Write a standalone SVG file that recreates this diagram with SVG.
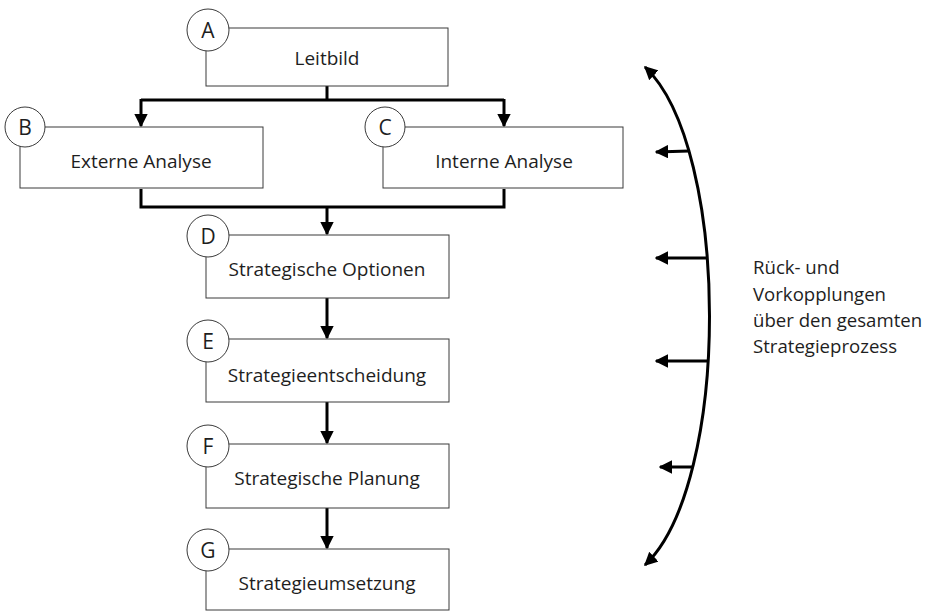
<svg xmlns="http://www.w3.org/2000/svg" width="928" height="612" viewBox="0 0 928 612">
<defs>
<style>
.box{fill:#fff;stroke:#3a3a3a;stroke-width:1}
.circ{fill:#fff;stroke:#3a3a3a;stroke-width:1}
.lbl{font-family:"Open Sans","Liberation Sans",sans-serif;font-size:19px;fill:#1e1e1e;text-anchor:middle}
.let{font-family:"Open Sans","Liberation Sans",sans-serif;font-size:21px;fill:#1e1e1e;text-anchor:middle}
.side{font-family:"Open Sans","Liberation Sans",sans-serif;font-size:18.6px;fill:#1e1e1e}
.con{fill:none;stroke:#000;stroke-width:3}
</style>
<marker id="ah" viewBox="0 0 10 10" refX="9" refY="5" markerWidth="4.5" markerHeight="4.5" orient="auto-start-reverse" markerUnits="strokeWidth">
<path d="M0,0 L10,5 L0,10 Z" fill="#000"/>
</marker>
</defs>
<rect width="928" height="612" fill="#fff"/>
<g id="connectors">
<path class="con" d="M327,86 V100 M141,100 H504"/>
<path class="con" d="M141,99 V126" marker-end="url(#ah)"/>
<path class="con" d="M504,99 V126" marker-end="url(#ah)"/>
<path class="con" d="M141,189 V207 H504 V189"/>
<path class="con" d="M327,207 V234" marker-end="url(#ah)"/>
<path class="con" d="M327,298 V338" marker-end="url(#ah)"/>
<path class="con" d="M327,402 V443" marker-end="url(#ah)"/>
<path class="con" d="M327,508 V548" marker-end="url(#ah)"/>
<path class="con" d="M645,67 C731,148 731,484 645,565" marker-start="url(#ah)" marker-end="url(#ah)"/>
<path class="con" d="M689,151 L656,152" marker-end="url(#ah)"/>
<path class="con" d="M707,258 H656" marker-end="url(#ah)"/>
<path class="con" d="M707,361 H656" marker-end="url(#ah)"/>
<path class="con" d="M693,467 H660" marker-end="url(#ah)"/>
</g>
<g id="nodeA">
<rect class="box" x="206" y="28" width="242" height="58"/>
<circle class="circ" cx="208" cy="30" r="21"/>
<text class="let" x="208" y="37.5">A</text>
<text class="lbl" x="327" y="65">Leitbild</text>
</g>
<g id="nodeB">
<rect class="box" x="20" y="127" width="243" height="61"/>
<circle class="circ" cx="25" cy="127" r="20"/>
<text class="let" x="25" y="134.5">B</text>
<text class="lbl" x="141" y="168">Externe Analyse</text>
</g>
<g id="nodeC">
<rect class="box" x="383" y="127" width="240" height="61"/>
<circle class="circ" cx="385" cy="127" r="20"/>
<text class="let" x="385" y="134.5">C</text>
<text class="lbl" x="504" y="168">Interne Analyse</text>
</g>
<g id="nodeD">
<rect class="box" x="206" y="235" width="243" height="63"/>
<circle class="circ" cx="208" cy="236" r="21"/>
<text class="let" x="208" y="243.5">D</text>
<text class="lbl" x="327" y="276">Strategische Optionen</text>
</g>
<g id="nodeE">
<rect class="box" x="206" y="339" width="243" height="63"/>
<circle class="circ" cx="208" cy="341" r="21"/>
<text class="let" x="208" y="348.5">E</text>
<text class="lbl" x="327" y="382">Strategieentscheidung</text>
</g>
<g id="nodeF">
<rect class="box" x="206" y="444" width="243" height="64"/>
<circle class="circ" cx="208" cy="446" r="21"/>
<text class="let" x="208" y="453.5">F</text>
<text class="lbl" x="327" y="485">Strategische Planung</text>
</g>
<g id="nodeG">
<rect class="box" x="206" y="549" width="243" height="61"/>
<circle class="circ" cx="208" cy="550" r="21"/>
<text class="let" x="208" y="557.5">G</text>
<text class="lbl" x="327" y="590">Strategieumsetzung</text>
</g>
<g id="feedback-label">
<text class="side" x="753" y="274">Rück- und</text>
<text class="side" x="753" y="301">Vorkopplungen</text>
<text class="side" x="753" y="327">über den gesamten</text>
<text class="side" x="753" y="353">Strategieprozess</text>
</g>
</svg>
